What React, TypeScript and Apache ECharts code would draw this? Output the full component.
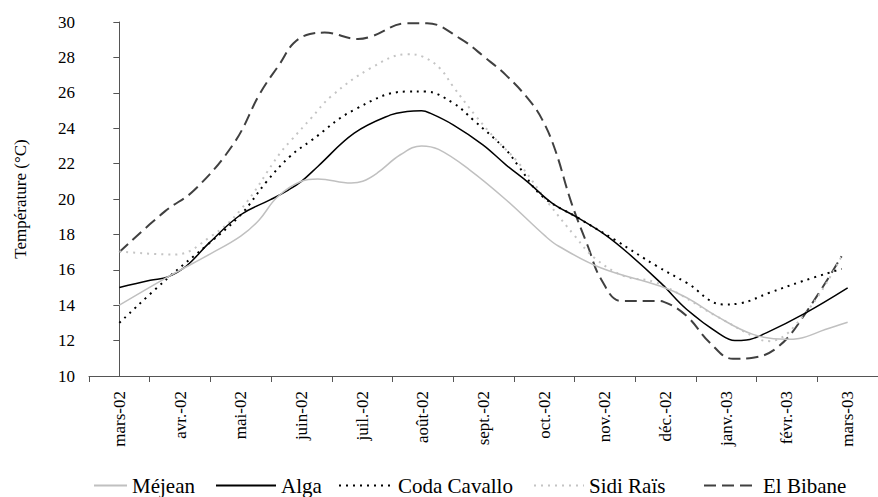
import React, { useEffect, useRef } from "react";
import * as echarts from "echarts";

const months = [
  "mars-02", "avr.-02", "mai-02", "juin-02", "juil.-02", "août-02", "sept.-02",
  "oct.-02", "nov.-02", "déc.-02", "janv.-03", "févr.-03", "mars-03",
];

const yMin = 10;
const yMax = 30;
const yStep = 2;

// [month index (0 = mars-02), temperature °C]
const mejean: [number, number][] = [
  [0, 14.0], [0.8, 15.6], [1.5, 16.9], [2.0, 17.9], [2.3, 18.8], [2.6, 20.1], [3.0, 21.0],
  [3.27, 21.13], [3.82, 20.9], [4.01, 21.0], [4.25, 21.47], [4.63, 22.5], [4.98, 23.0],
  [5.26, 22.8], [5.77, 21.65], [6.37, 19.96], [7.02, 17.9], [7.24, 17.33], [7.94, 16.1],
  [8.92, 15.07], [9.35, 14.42], [9.84, 13.38], [10.44, 12.35], [10.98, 12.07],
  [11.2, 12.12], [11.63, 12.63], [12, 13.04],
];

const alga: [number, number][] = [
  [0, 15.0], [0.51, 15.41], [0.8, 15.6], [1.1, 16.2], [1.48, 17.52], [2.0, 19.11],
  [2.49, 19.96], [2.79, 20.52], [3.0, 21.0], [3.27, 21.84], [3.87, 23.72], [4.47, 24.75],
  [4.74, 24.94], [4.98, 24.98], [5.12, 24.85], [5.5, 24.19], [5.99, 23.06], [6.37, 21.93],
  [6.75, 20.9], [7.13, 19.77], [7.56, 18.93], [8.0, 17.99], [8.38, 16.95], [8.92, 15.26],
  [9.35, 13.76], [9.9, 12.35], [10.14, 12.0], [10.33, 12.03],
  [10.66, 12.44], [11.31, 13.57], [12, 14.98],
];

const codaCavallo: [number, number][] = [
  [0, 13.0], [0.8, 15.54], [1.48, 17.5], [2.0, 19.11], [2.43, 21.0], [2.81, 22.4],
  [3.16, 23.3], [3.87, 25.04], [4.74, 26.07], [5.04, 26.07], [5.5, 25.42], [5.83, 24.47],
  [6.37, 22.78], [6.58, 21.84], [6.97, 20.15], [7.56, 18.93], [8.16, 17.7], [8.86, 16.2],
  [9.35, 15.26], [9.95, 14.04], [10.22, 14.1], [10.71, 14.7], [11.25, 15.35], [11.9, 16.05],
];

const sidiRais: [number, number][] = [
  [0, 17.04], [0.91, 16.86], [1.51, 17.89], [2.0, 19.4], [2.65, 22.6], [2.84, 23.35],
  [3.16, 24.57], [3.49, 25.8], [4.14, 27.39], [4.74, 28.18], [5.0, 28.04], [5.28, 27.39],
  [5.5, 26.35], [5.88, 24.66], [6.21, 23.35], [6.58, 22.03], [7.07, 19.77], [7.51, 17.89],
  [7.83, 16.67], [8.32, 15.64], [8.86, 15.26], [9.84, 13.38], [10.55, 12.07],
  [10.71, 11.97], [11.31, 13.57], [11.9, 16.76],
];

const elBibane: [number, number][] = [
  [0, 17.0], [0.75, 19.3], [1.24, 20.52], [1.89, 23.16], [2.32, 25.98], [2.65, 27.67],
  [2.87, 28.8], [3.14, 29.32], [3.38, 29.4], [3.93, 29.04], [4.14, 29.17], [4.74, 29.93],
  [5.07, 29.93], [5.61, 29.08], [6.04, 27.95], [6.37, 27.0], [6.75, 25.6], [6.97, 24.47],
  [7.18, 22.78], [7.45, 19.77], [7.72, 17.33], [7.94, 15.45], [8.27, 14.24], [8.86, 14.24],
  [8.97, 14.19], [9.35, 13.38], [9.73, 11.88], [10.11, 10.97], [10.44, 11.03],
  [10.87, 11.69], [11.31, 13.57], [11.9, 16.76],
];

const seriesNames = ["Méjean", "Alga", "Coda Cavallo", "Sidi Raïs", "El Bibane"];

const FONT = "Liberation Serif";

export default function App() {
  const ref = useRef<HTMLDivElement>(null);

  useEffect(() => {
    if (!ref.current) return;
    const chart = echarts.init(ref.current, undefined, { renderer: "svg" });

    const styles = [
      { color: "#c0c0c0", type: "solid" as any, width: 1.5 },
      { color: "#000000", type: "solid" as any, width: 1.5 },
      { color: "#000000", type: [2, 5] as any, width: 2 },
      { color: "#c4c4c4", type: [2, 5] as any, width: 2 },
      { color: "#404040", type: [12, 6] as any, width: 2 },
    ];
    const datas = [mejean, alga, codaCavallo, sidiRais, elBibane];

    const legendPos = [
      { left: 93, w: 33 },
      { left: 215, w: 60 },
      { left: 338, w: 54 },
      { left: 533, w: 50 },
      { left: 703, w: 54 },
    ];

    chart.setOption({
      animation: false,
      backgroundColor: "#ffffff",
      textStyle: { fontFamily: FONT },
      grid: { left: 89, top: 22, width: 798, height: 354 },
      legend: seriesNames.map((n, i) => ({
        data: [n],
        left: legendPos[i].left,
        top: 475,
        itemWidth: legendPos[i].w,
        itemHeight: 10,
        padding: 0,
        itemStyle: { opacity: 0 },
        textStyle: { fontFamily: FONT, fontSize: 21, color: "#000" },
      })),
      xAxis: [
        {
          type: "category",
          data: months,
          boundaryGap: true,
          axisLine: { lineStyle: { color: "#555", width: 1 } },
          axisTick: { show: true, length: 6, inside: false, lineStyle: { color: "#555" } },
          axisLabel: {
            rotate: 90,
            margin: 15,
            fontSize: 17,
            fontFamily: FONT,
            color: "#000",
            interval: 0,
          },
          splitLine: { show: false },
        },
        {
          type: "value",
          min: -0.5,
          max: 12.5,
          show: false,
        },
      ],
      yAxis: {
        type: "value",
        min: yMin,
        max: yMax,
        interval: yStep,
        name: "Température (°C)",
        nameLocation: "middle",
        nameRotate: 90,
        nameGap: 60,
        nameTextStyle: { fontFamily: FONT, fontSize: 17, color: "#000" },
        axisLine: { show: true, lineStyle: { color: "#555", width: 1 } },
        axisTick: { show: true, length: 6, lineStyle: { color: "#555" } },
        axisLabel: { fontSize: 17, fontFamily: FONT, color: "#000", margin: 14 },
        splitLine: { show: false },
      },
      series: seriesNames.map((n, i) => ({
        name: n,
        type: "line",
        xAxisIndex: 1,
        data: datas[i],
        smooth: 0.4,
        symbol: "none",
        showSymbol: false,
        lineStyle: styles[i],
        itemStyle: { color: styles[i].color },
        z: 10 - i,
      })),
    });

    return () => chart.dispose();
  }, []);

  return (
    <div
      ref={ref}
      style={{ position: "absolute", left: 0, top: 0, width: 878, height: 497 }}
    />
  );
}
